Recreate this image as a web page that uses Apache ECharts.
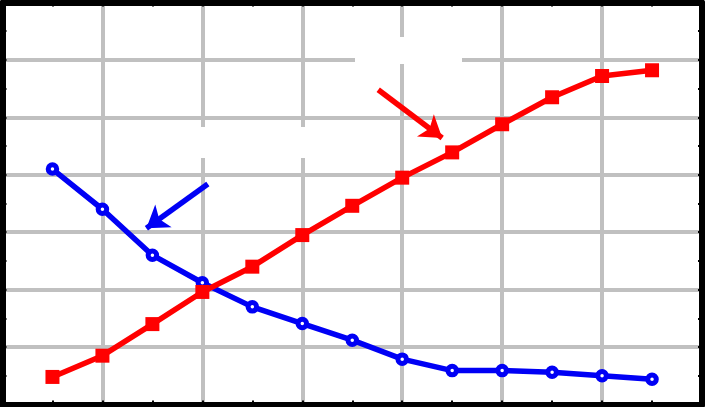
<!DOCTYPE html>
<html>
<head>
<meta charset="utf-8">
<script src="https://cdn.jsdelivr.net/npm/echarts@6/dist/echarts.min.js"></script>
<style>html,body{margin:0;padding:0;background:#fff}#c{width:705px;height:407px}</style>
</head>
<body>
<div id="c"></div>
<script>
// data
const xValues = [1, 2, 3, 4, 5, 6, 7, 8, 9, 10, 11, 12, 13];
const blueValues = [4.10, 3.40, 2.60, 2.12, 1.70, 1.41, 1.12, 0.79, 0.59, 0.59, 0.56, 0.50, 0.44];
const redValues = [0.48, 0.85, 1.40, 1.96, 2.40, 2.95, 3.46, 3.95, 4.39, 4.88, 5.35, 5.72, 5.82];
// annotation arrows (data coordinates: [x, y] tail and head)
const redArrow = [[7.52, 5.48], [8.80, 4.64]];
const blueArrow = [[4.11, 3.84], [2.88, 3.07]];

const RED = '#ff0000', BLUE = '#0000f5', GRID = '#c0c0c0';

function axisBase(extra) {
  return Object.assign({
    type: 'value',
    axisLine: { show: true, onZero: false, lineStyle: { color: '#000', width: 6 } },
    axisTick: { show: true, inside: true, length: 4, lineStyle: { color: '#000', width: 2 } },
    minorTick: { show: true, splitNumber: 2, length: 4, lineStyle: { color: '#000', width: 2 } },
    axisLabel: { show: false },
    splitLine: { show: false },
    minorSplitLine: { show: false }
  }, extra);
}

const chart = echarts.init(document.getElementById('c'), null, { renderer: 'canvas' });
const arrowLine = (pts, color) => ({
  silent: true,
  symbol: ['none', 'arrow'],
  symbolSize: [21, 21],
  label: { show: false },
  lineStyle: { color: color, width: 5.5, type: 'solid' },
  emphasis: { disabled: true },
  data: [[{ coord: pts[0] }, { coord: pts[1] }]]
});

chart.setOption({
  animation: false,
  backgroundColor: '#fff',
  grid: { left: 2.5, right: 3, top: 2.5, bottom: 2.5, containLabel: false },
  xAxis: [
    axisBase({ min: 0, max: 14, interval: 2, position: 'bottom',
      splitLine: { show: true, lineStyle: { color: GRID, width: 4 } } }),
    axisBase({ min: 0, max: 14, interval: 2, position: 'top' })
  ],
  yAxis: [
    axisBase({ min: 0, max: 7, interval: 1, position: 'left',
      splitLine: { show: true, lineStyle: { color: GRID, width: 4 } } }),
    axisBase({ min: 0, max: 7, interval: 1, position: 'right' })
  ],
  graphic: [
    { type: 'rect', z: 1, shape: { x: 355, y: 37, width: 107, height: 27 }, style: { fill: '#fff' }, silent: true },
    { type: 'rect', z: 1, shape: { x: 196, y: 127, width: 114, height: 31 }, style: { fill: '#fff' }, silent: true }
  ],
  series: [
    {
      type: 'line',
      data: xValues.map((x, i) => [x, blueValues[i]]),
      symbol: 'circle',
      symbolSize: 8.5,
      itemStyle: { color: '#fff', borderColor: BLUE, borderWidth: 5 },
      lineStyle: { color: BLUE, width: 5.5 },
      emphasis: { disabled: true },
      markLine: arrowLine(blueArrow, BLUE),
      z: 3
    },
    {
      type: 'line',
      data: xValues.map((x, i) => [x, redValues[i]]),
      symbol: 'rect',
      symbolSize: 14,
      itemStyle: { color: RED },
      lineStyle: { color: RED, width: 5.5 },
      emphasis: { disabled: true },
      markLine: arrowLine(redArrow, RED),
      z: 4
    }
  ]
});
</script>
</body>
</html>
